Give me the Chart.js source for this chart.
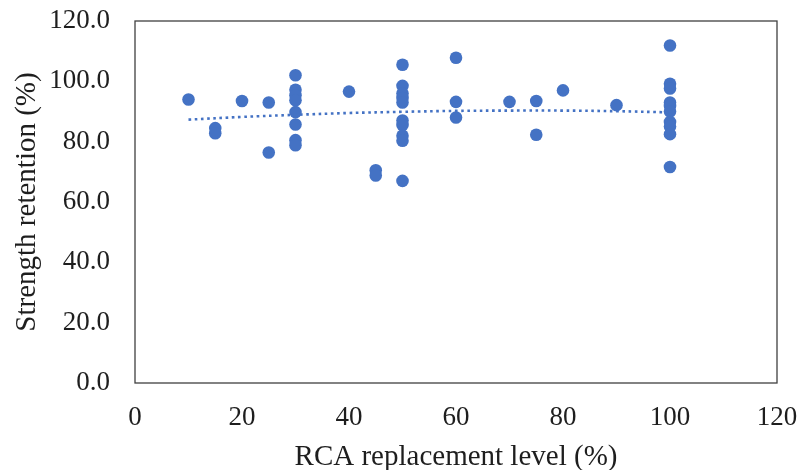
<!DOCTYPE html>
<html>
<head>
<meta charset="utf-8">
<script src="https://cdn.jsdelivr.net/npm/chart.js@4/dist/chart.umd.min.js"></script>
<style>
  html, body { margin: 0; padding: 0; background: #fff; }
  #wrap { width: 805px; height: 470px; }
</style>
</head>
<body>
<div id="wrap"><canvas id="myChart" width="805" height="470"></canvas></div>
<script>
// --------------------
// Data
// --------------------
const rcaLevel = [
  10, 15, 15, 20, 25, 25,
  30, 30, 30, 30, 30, 30, 30, 30,
  40, 45, 45,
  50, 50, 50, 50, 50, 50, 50, 50, 50, 50,
  60, 60, 60, 70, 75, 75, 80, 90,
  100, 100, 100, 100, 100, 100, 100, 100, 100, 100
];
const retention = [
  94.0, 84.5, 82.8, 93.5, 93.0, 76.4,
  102.0, 97.2, 95.4, 93.7, 89.8, 85.7, 80.5, 78.8,
  96.6, 70.5, 68.8,
  105.5, 98.5, 96.0, 94.5, 93.0, 87.0, 85.5, 82.0, 80.3, 67.0,
  107.8, 93.2, 88.0, 93.2, 93.5, 82.3, 97.0, 92.1,
  111.9, 99.2, 97.6, 93.0, 91.8, 90.0, 86.5, 85.0, 82.5, 71.6
];

// dotted trend line (polynomial trendline in the original)
const trendX = [10, 20, 30, 40, 50, 60, 70, 80, 90, 100];
const trendY = [87.3, 88.2, 88.9, 89.5, 89.9, 90.2, 90.3, 90.3, 90.1, 89.7];

const blue = "#4472C4";
const serif = "'Liberation Serif', 'Times New Roman', serif";
const tickFont = { family: serif, size: 27 };
const titleFont = { family: serif, size: 29 };

// box around the plot area
const plotBox = {
  id: "plotBox",
  afterDraw(chart) {
    const a = chart.chartArea;
    const ctx = chart.ctx;
    ctx.save();
    ctx.strokeStyle = "#404040";
    ctx.lineWidth = 1.3;
    ctx.strokeRect(a.left, a.top, a.right - a.left, a.bottom - a.top);
    ctx.restore();
  }
};

// invisible tick marks just to push labels away from the axis
// (ticks.padding would also grow the chart's outer padding)
const hiddenTicks = (len) => ({
  display: true,
  drawOnChartArea: false,
  drawTicks: true,
  tickLength: len,
  color: "rgba(0,0,0,0)"
});

const ctx = document.getElementById("myChart").getContext("2d");

new Chart(ctx, {
  type: "scatter",
  data: {
    datasets: [
      {
        label: "Strength retention",
        data: rcaLevel.map((x, i) => ({ x: x, y: retention[i] })),
        backgroundColor: blue,
        borderColor: blue,
        pointRadius: 6.3,
        pointBorderWidth: 0,
        order: 2
      },
      {
        label: "Trend",
        type: "line",
        data: trendX.map((x, i) => ({ x: x, y: trendY[i] })),
        borderColor: blue,
        borderWidth: 2.6,
        borderDash: [2.6, 3.6],
        borderCapStyle: "butt",
        pointRadius: 0,
        tension: 0.4,
        fill: false,
        order: 1
      }
    ]
  },
  options: {
    responsive: false,
    animation: false,
    layout: { padding: { top: 21, right: 28, bottom: 0, left: 0 } },
    plugins: {
      legend: { display: false },
      tooltip: { enabled: false }
    },
    scales: {
      x: {
        type: "linear",
        min: 0,
        max: 120,
        grid: hiddenTicks(19),
        border: { display: false },
        afterFit: (scale) => { scale.height = 87; },
        ticks: {
          stepSize: 20,
          color: "#1e1e1e",
          font: tickFont,
          padding: 0,
          maxRotation: 0
        },
        title: {
          display: true,
          text: "RCA replacement level (%)",
          color: "#1e1e1e",
          font: titleFont,
          padding: { top: 0, bottom: -5 }
        }
      },
      y: {
        min: 0,
        max: 120,
        grid: hiddenTicks(25),
        border: { display: false },
        afterFit: (scale) => { scale.width = 135; },
        ticks: {
          stepSize: 20,
          color: "#1e1e1e",
          font: tickFont,
          padding: 0,
          callback: (v) => v.toFixed(1)
        },
        title: {
          display: true,
          text: "Strength retention (%)",
          color: "#1e1e1e",
          font: titleFont,
          padding: { top: 10, bottom: 0 }
        }
      }
    }
  },
  plugins: [plotBox]
});
</script>
</body>
</html>
